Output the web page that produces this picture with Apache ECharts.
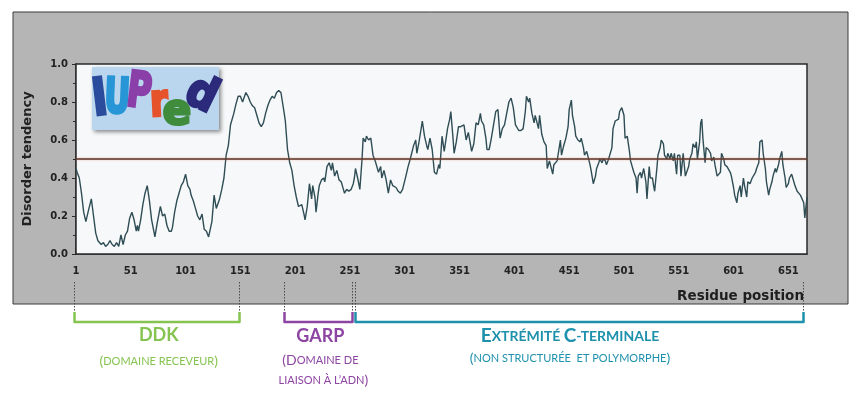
<!DOCTYPE html>
<html>
<head>
<meta charset="utf-8">
<script src="https://cdn.jsdelivr.net/npm/echarts@6/dist/echarts.min.js"></script>
<style>
  html, body { margin: 0; padding: 0; background: #ffffff; }
  #chart { width: 862px; height: 394px; }
</style>
</head>
<body>
<div id="chart"></div>
<script>
// IUPred disorder profile: residue number -> disorder tendency
const residues = [
  1, 2, 4, 6, 8, 10, 12, 15, 17, 19, 21, 24, 26, 28, 30, 32, 34, 36, 38, 40,
  42, 44, 46, 48, 50, 52, 54, 56, 57, 58, 60, 62, 64, 66, 68, 70, 72, 73, 75, 77,
  78, 80, 82, 84, 86, 88, 89, 91, 93, 95, 97, 99, 101, 103, 105, 106, 108, 110, 112, 114,
  116, 118, 120, 122, 123, 125, 127, 129, 132, 134, 136, 138, 140, 142, 145, 147, 149, 151, 153, 156,
  158, 160, 162, 164, 166, 168, 170, 172, 174, 176, 178, 180, 182, 184, 186, 188, 189, 191, 192, 194,
  196, 198, 200, 202, 204, 205, 207, 209, 210, 212, 214, 216, 217, 219, 220, 222, 223, 225, 227, 228,
  230, 232, 233, 234, 235, 237, 239, 241, 243, 245, 246, 248, 250, 252, 254, 255, 256, 258, 260, 261,
  262, 263, 265, 266, 268, 270, 272, 274, 277, 279, 280, 282, 284, 286, 288, 290, 293, 295, 297, 299,
  300, 302, 304, 306, 309, 311, 312, 314, 317, 319, 321, 322, 324, 326, 328, 330, 332, 333, 335, 337,
  338, 340, 342, 343, 345, 346, 348, 350, 352, 355, 357, 359, 362, 364, 366, 368, 370, 371, 373, 375,
  376, 378, 380, 382, 384, 385, 386, 388, 390, 392, 394, 396, 398, 400, 402, 405, 407, 409, 411, 412,
  414, 415, 417, 419, 420, 423, 424, 426, 428, 430, 431, 433, 434, 436, 437, 438, 440, 441, 443, 444,
  446, 447, 448, 450, 451, 453, 454, 456, 457, 459, 461, 462, 464, 465, 467, 468, 470, 471, 473, 475,
  476, 478, 479, 481, 482, 484, 485, 487, 488, 490, 491, 493, 496, 497, 499, 501, 502, 504, 506, 507,
  509, 510, 512, 513, 514, 516, 517, 519, 521, 522, 524, 525, 527, 528, 529, 531, 532, 534, 535, 537,
  538, 540, 541, 543, 544, 546, 547, 549, 550, 552, 553, 555, 557, 558, 560, 561, 563, 564, 566, 567,
  568, 570, 571, 572, 573, 575, 576, 578, 580, 581, 583, 584, 586, 587, 589, 590, 592, 593, 595, 596,
  598, 599, 601, 602, 604, 605, 607, 608, 610, 611, 613, 614, 616, 618, 619, 621, 622, 624, 625, 627,
  628, 630, 631, 633, 634, 636, 637, 639, 640, 642, 643, 645, 646, 648, 649, 651, 652, 654, 655, 657,
  659, 660, 662, 663, 665, 666, 668
];
const disorder = [
  0.45, 0.43, 0.40, 0.32, 0.22, 0.17, 0.22, 0.29, 0.20, 0.11, 0.07, 0.05, 0.06, 0.04, 0.05, 0.07, 0.05, 0.04, 0.06, 0.04,
  0.10, 0.05, 0.10, 0.12, 0.19, 0.22, 0.18, 0.12, 0.15, 0.12, 0.18, 0.26, 0.32, 0.36, 0.28, 0.18, 0.12, 0.09, 0.16, 0.22,
  0.25, 0.20, 0.21, 0.15, 0.12, 0.12, 0.14, 0.22, 0.28, 0.32, 0.36, 0.38, 0.42, 0.36, 0.34, 0.31, 0.28, 0.24, 0.20, 0.18,
  0.21, 0.13, 0.12, 0.09, 0.08, 0.17, 0.31, 0.24, 0.29, 0.34, 0.40, 0.52, 0.57, 0.68, 0.74, 0.79, 0.83, 0.83, 0.80, 0.85,
  0.83, 0.80, 0.78, 0.77, 0.73, 0.69, 0.67, 0.69, 0.74, 0.78, 0.81, 0.83, 0.82, 0.85, 0.86, 0.85, 0.86, 0.74, 0.70, 0.55,
  0.48, 0.44, 0.36, 0.30, 0.25, 0.24, 0.26, 0.21, 0.18, 0.25, 0.37, 0.29, 0.36, 0.30, 0.22, 0.32, 0.36, 0.39, 0.40, 0.38,
  0.46, 0.48, 0.47, 0.44, 0.48, 0.41, 0.44, 0.39, 0.38, 0.34, 0.32, 0.34, 0.33, 0.34, 0.37, 0.40, 0.45, 0.40, 0.34, 0.42,
  0.50, 0.61, 0.59, 0.62, 0.60, 0.61, 0.52, 0.49, 0.43, 0.46, 0.40, 0.44, 0.39, 0.32, 0.39, 0.36, 0.35, 0.33, 0.32, 0.34,
  0.33, 0.41, 0.46, 0.50, 0.57, 0.60, 0.53, 0.59, 0.70, 0.62, 0.57, 0.55, 0.61, 0.55, 0.43, 0.42, 0.47, 0.45, 0.62, 0.54,
  0.55, 0.66, 0.71, 0.75, 0.61, 0.53, 0.59, 0.67, 0.67, 0.68, 0.60, 0.64, 0.54, 0.58, 0.69, 0.68, 0.74, 0.70, 0.68, 0.61,
  0.55, 0.55, 0.61, 0.68, 0.75, 0.74, 0.76, 0.61, 0.66, 0.68, 0.74, 0.80, 0.82, 0.77, 0.68, 0.65, 0.65, 0.66, 0.75, 0.83,
  0.80, 0.82, 0.74, 0.69, 0.73, 0.66, 0.73, 0.63, 0.59, 0.57, 0.45, 0.49, 0.50, 0.42, 0.47, 0.48, 0.49, 0.50, 0.60, 0.52,
  0.57, 0.58, 0.61, 0.67, 0.76, 0.81, 0.73, 0.67, 0.62, 0.60, 0.59, 0.61, 0.56, 0.52, 0.54, 0.53, 0.47, 0.44, 0.37, 0.41,
  0.45, 0.48, 0.50, 0.48, 0.50, 0.49, 0.47, 0.50, 0.51, 0.56, 0.66, 0.70, 0.71, 0.75, 0.77, 0.73, 0.61, 0.62, 0.54, 0.49,
  0.45, 0.43, 0.40, 0.32, 0.41, 0.43, 0.40, 0.45, 0.38, 0.29, 0.46, 0.40, 0.40, 0.36, 0.33, 0.45, 0.52, 0.56, 0.60, 0.58,
  0.52, 0.50, 0.53, 0.50, 0.53, 0.49, 0.53, 0.42, 0.52, 0.52, 0.41, 0.53, 0.41, 0.42, 0.46, 0.50, 0.53, 0.58, 0.56, 0.59,
  0.50, 0.59, 0.69, 0.71, 0.61, 0.48, 0.56, 0.55, 0.53, 0.49, 0.51, 0.47, 0.41, 0.41, 0.43, 0.53, 0.50, 0.47, 0.46, 0.45,
  0.43, 0.41, 0.35, 0.31, 0.27, 0.32, 0.36, 0.30, 0.40, 0.36, 0.30, 0.38, 0.37, 0.40, 0.41, 0.43, 0.45, 0.48, 0.59, 0.60,
  0.53, 0.45, 0.38, 0.31, 0.34, 0.38, 0.41, 0.45, 0.43, 0.47, 0.50, 0.54, 0.47, 0.40, 0.35, 0.37, 0.40, 0.42, 0.41, 0.36,
  0.33, 0.34, 0.31, 0.32, 0.27, 0.19, 0.30
];

// Axis ticks
const xTickLabels = [1, 51, 101, 151, 201, 251, 301, 351, 401, 451, 501, 551, 601, 651];
const yTickLabels = [0.0, 0.2, 0.4, 0.6, 0.8, 1.0];
const sequenceLength = 668;
const disorderThreshold = 0.5;

// Protein domains (residue ranges) shown under the axis
const domainStart = [1, 193, 257];
const domainEnd = [152, 255, 666];
const domainColors = ['#86c451', '#8d45a3', '#1e91ac'];

const chart = echarts.init(document.getElementById('chart'), null, { renderer: 'canvas' });

const axisFont = { fontFamily: '"DejaVu Sans", Verdana, sans-serif', fontWeight: 'bold', color: '#222' };
const noteFont = 'Lato, "Open Sans", sans-serif';

chart.setOption({
  animation: false,
  backgroundColor: '#ffffff',
  grid: {
    left: 76, right: 55, top: 64, bottom: 140,
    show: true,
    backgroundColor: '#f7f8fa',
    borderColor: '#2a2a2a',
    borderWidth: 1.5,
    z: 1
  },
  xAxis: {
    type: 'value',
    min: 1,
    max: sequenceLength,
    axisLine: { show: true, onZero: false, lineStyle: { color: '#2a2a2a', width: 1.5 } },
    axisTick: { show: true, inside: true, length: 6, customValues: xTickLabels, lineStyle: { color: '#2a2a2a', width: 1.5 } },
    axisLabel: Object.assign({ customValues: xTickLabels, fontSize: 10, margin: 12 }, axisFont),
    splitLine: { show: false }
  },
  yAxis: {
    type: 'value',
    min: 0,
    max: 1,
    interval: 0.2,
    name: 'Disorder tendency',
    nameLocation: 'middle',
    nameRotate: 90,
    nameGap: 42,
    nameTextStyle: { fontFamily: '"DejaVu Sans", Verdana, sans-serif', fontWeight: 'bold', fontSize: 13, color: '#222' },
    axisLine: { show: true, lineStyle: { color: '#2a2a2a', width: 1.5 } },
    axisTick: { show: true, length: 4, lineStyle: { color: '#2a2a2a' } },
    minorTick: { show: true, splitNumber: 2, length: 3, lineStyle: { color: '#2a2a2a' } },
    axisLabel: Object.assign({ fontSize: 10, margin: 8, formatter: v => v.toFixed(1) }, axisFont),
    splitLine: { show: true, lineStyle: { color: '#dedfe2', width: 1 } }
  },
  series: [{
    type: 'line',
    data: residues.map((r, i) => [r, disorder[i]]),
    showSymbol: false,
    z: 3,
    lineStyle: { color: '#2f4d55', width: 1.4 },
    markLine: {
      silent: true,
      symbol: 'none',
      label: { show: false },
      lineStyle: { color: '#5a3328', width: 1.5, type: 'solid', shadowColor: 'rgba(225,120,90,0.6)', shadowBlur: 2 },
      data: [{ yAxis: disorderThreshold }]
    }
  }]
});

// Position of a residue along the x axis, in pixels
const px = r => chart.convertToPixel({ gridIndex: 0 }, [r, 0])[0];

const graphics = [];

// Grey panel behind the plot
graphics.push({
  type: 'rect', z: -10, silent: true,
  shape: { x: 13, y: 12, width: 835, height: 292 },
  style: { fill: '#b5b5b5', stroke: '#3a3a3a', lineWidth: 1 }
});

// "Residue position" axis caption
graphics.push({
  type: 'text', z: 5, silent: true,
  style: {
    x: 804, y: 296, text: 'Residue position', align: 'right', verticalAlign: 'middle',
    font: 'bold 13.5px "DejaVu Sans", Verdana, sans-serif', fill: '#1e1e1e'
  }
});

// IUPred logo
const logoLetters = [
  { ch: 'I', x: 100, y: 101, fill: '#2b4c9c', rot: 0.12, sx: 0.9, sy: 1.15, size: 44 },
  { ch: 'U', x: 117, y: 100, fill: '#2896d6', rot: -0.04, sx: 0.72, sy: 1.1, size: 44 },
  { ch: 'P', x: 139, y: 94, fill: '#8a3fa9', rot: -0.12, sx: 0.75, sy: 1.1, size: 44 },
  { ch: 'r', x: 159, y: 104, fill: '#e6532b', rot: 0.05, sx: 0.85, sy: 1.05, size: 42 },
  { ch: 'e', x: 177, y: 113, fill: '#3f8c3c', rot: 0.0, sx: 0.95, sy: 0.95, size: 44 },
  { ch: 'd', x: 201, y: 96, fill: '#2b2a7b', rot: -0.45, sx: 0.9, sy: 1.0, size: 46 }
];
graphics.push({
  type: 'rect', z: 8, silent: true,
  shape: { x: 92, y: 67, width: 127, height: 63 },
  style: { fill: '#bad6ee', shadowColor: 'rgba(0,0,0,0.45)', shadowBlur: 4, shadowOffsetX: 2, shadowOffsetY: 2 }
});
logoLetters.forEach(l => {
  graphics.push({
    type: 'text', z: 9, silent: true,
    x: l.x, y: l.y, rotation: l.rot, scaleX: l.sx, scaleY: l.sy,
    style: {
      x: 0, y: 0, text: l.ch, align: 'center', verticalAlign: 'middle',
      font: '900 ' + l.size + 'px "DejaVu Sans", Lato, sans-serif', fill: l.fill,
      stroke: l.fill, lineWidth: 3
    }
  });
});

// Dotted guides from the axis down to each domain bracket, plus the brackets
const bracketTop = 312, bracketBottom = 322;
domainStart.forEach((s, i) => {
  const x1 = Math.round(px(s)) - 1.5, x2 = Math.round(px(domainEnd[i])) - 1.5;
  [x1, x2].forEach(x => graphics.push({
    type: 'line', z: 5, silent: true,
    shape: { x1: x, y1: 282, x2: x, y2: bracketTop + 2 },
    style: { stroke: '#4a4a4a', lineWidth: 1, lineDash: [1.5, 1.5] }
  }));
  graphics.push({
    type: 'polyline', z: 6, silent: true,
    shape: { points: [[x1, bracketTop], [x1, bracketBottom], [x2, bracketBottom], [x2, bracketTop]] },
    style: { stroke: domainColors[i], lineWidth: 2.5, fill: null, lineJoin: 'round' }
  });
});

// Domain captions (small capitals)
const caption = (x, y, text, rich) => ({
  type: 'text', z: 6, silent: true,
  style: { x: x, y: y, text: text, align: 'center', verticalAlign: 'middle', rich: rich }
});
const sc = (color, big, small, weight) => ({
  B: { fontFamily: noteFont, fontSize: big, fontWeight: weight, fill: color, color: color },
  s: { fontFamily: noteFont, fontSize: small, fontWeight: weight, fill: color, color: color }
});
const green = domainColors[0], purple = domainColors[1], teal = domainColors[2];
graphics.push(caption((px(domainStart[0]) + px(domainEnd[0])) / 2, 335, '{B|DDK}', sc(green, 18, 18, 'bold')));
graphics.push(caption((px(domainStart[0]) + px(domainEnd[0])) / 2, 361, '{B|(}{s|DOMAINE RECEVEUR}{B|)}', sc(green, 14, 11, 'normal')));
graphics.push(caption((px(domainStart[1]) + px(domainEnd[1])) / 2, 336, '{B|GARP}', sc(purple, 18, 18, 'bold')));
graphics.push(caption((px(domainStart[1]) + px(domainEnd[1])) / 2, 360, '{B|(D}{s|OMAINE DE}', sc(purple, 14, 11, 'normal')));
graphics.push(caption((px(domainStart[1]) + px(domainEnd[1])) / 2 + 3, 380, '{s|LIAISON À L’ADN}{B|)}', sc(purple, 14, 11, 'normal')));
graphics.push(caption(570, 336, '{B|E}{s|XTRÉMITÉ }{B|C}{s|-TERMINALE}', sc(teal, 19, 14, 'bold')));
graphics.push(caption(570, 358, '{B|(}{s|NON STRUCTURÉE  ET POLYMORPHE}{B|)}', sc(teal, 14, 11, 'normal')));

chart.setOption({ graphic: graphics });
</script>
</body>
</html>
